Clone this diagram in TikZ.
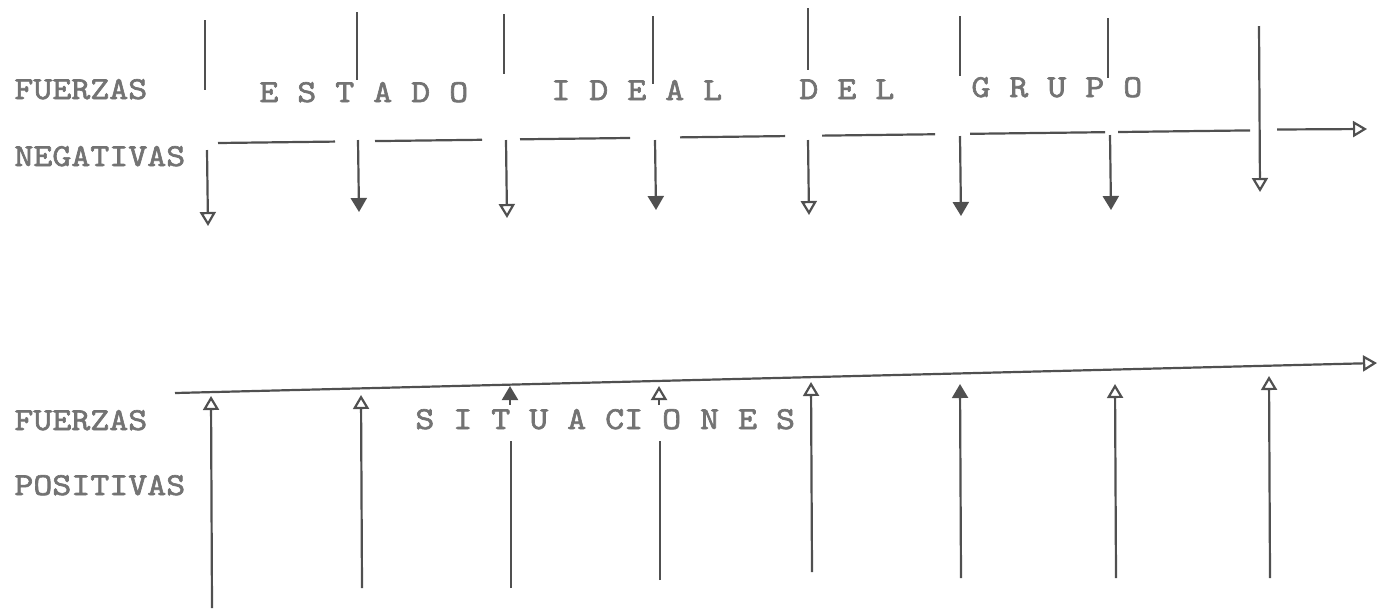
\documentclass[tikz,border=0pt]{standalone}
\usepackage{fontspec}
\newfontfamily\typewr[FakeStretch=1.13, FakeBold=2]{lmmono10-regular.otf}
\usetikzlibrary{positioning,
                arrows.meta}                % arrow tips

\definecolor{ink}{RGB}{80,80,80}
\definecolor{typed}{RGB}{115,115,115}

\tikzset{
    word/.style={anchor=base west, inner sep=0pt, text=typed,
                 font=\typewr\fontsize{16}{18}\selectfont},
    force/.style={draw=ink, line width=1.1pt},
    opentip/.style={-{Triangle[open, length=7pt, width=8pt]}},
    fulltip/.style={-{Triangle[length=7pt, width=8pt]}}
}

\begin{document}
\begin{tikzpicture}[x=0.5pt, y=-0.5pt]
    \useasboundingbox (0,0) rectangle (1379,612);

    % side labels
    \node[word] (fneg) at (14,99)  {FUERZAS};
    \node[word] (neg)  at (14,166) {NEGATIVAS};
    \node[word] (fpos) at (14,430) {FUERZAS};
    \node[word] (pos)  at (14,495) {POSITIVAS};

    % words over the broken line
    \node[word] (estado) at (259,102) {E S T A D O};
    \node[word] (ideal)  at (551,100) {I D E A L};
    \node[word] (del)    at (799,99)  {D E L};
    \node[word] (grupo)  at (971,97)  {G R U P O};
    \node[word] (sit)    at (415,429) {S I T U A CI O N E S};

    % broken line of the ideal state
    \foreach \i/\a/\b in {1/218/335, 2/375/482, 3/520/630, 4/680/785,
                          5/822/935, 6/970/1105, 7/1118/1250}{
        \coordinate (d\i a) at (\a, {143-(\a-218)*0.0122});
        \coordinate (d\i b) at (\b, {143-(\b-218)*0.0122});
        \draw[force] (d\i a) -- (d\i b);
    }
    \coordinate (dend a) at (1277,129.5);
    \coordinate (dend b) at (1367,129);
    \draw[force, opentip] (dend a) -- (dend b);

    % stubs above the line
    \foreach \i/\x/\a/\b in {1/205/20/90, 2/357/12/80, 3/504/14/74,
                             4/653/16/84, 5/808/8/70, 6/960/16/76,
                             7/1108/18/78}{
        \coordinate (s\i a) at (\x,\a);
        \coordinate (s\i b) at (\x,\b);
        \draw[force] (s\i a) -- (s\i b);
    }

    % negative forces
    \foreach \i/\x/\a/\b/\tip in {1/207/150/226/opentip, 2/358/140/212/fulltip,
                                  3/506/140/218/opentip, 4/655/140/210/fulltip,
                                  5/808/140/215/opentip, 6/960/136/216/fulltip,
                                  7/1110/135/210/fulltip, 8/1259/26/192/opentip}{
        \coordinate (n\i a) at (\x,\a);
        \coordinate (n\i b) at (\x+1,\b);
        \draw[force, \tip] (n\i a) -- (n\i b);
    }

    % line of the situations
    \coordinate (sa) at (175,393);
    \coordinate (sb) at (1377,363);
    \draw[force, opentip] (sa) -- (sb);

    % positive forces
    \foreach \i/\x/\a/\b/\tip in {1/212/608/396/opentip, 2/362/588/395/opentip,
                                  5/812/572/382/opentip, 6/961/578/384/fulltip,
                                  7/1116/578/384/opentip, 8/1270/578/376/opentip}{
        \coordinate (p\i a) at (\x,\a);
        \coordinate (p\i b) at (\x-1,\b);
        \draw[force, \tip] (p\i a) -- (p\i b);
    }
    % the two cut by the text
    \foreach \i/\x/\c/\tip in {3/511/588/fulltip, 4/660/580/opentip}{
        \coordinate (p\i a) at (\x,\c);
        \coordinate (p\i b) at (\x,441);
        \coordinate (p\i c) at (\x-1,405);
        \coordinate (p\i d) at (\x-1,386);
        \draw[force] (p\i a) -- (p\i b);
        \draw[force, \tip] (p\i c) -- (p\i d);
    }
\end{tikzpicture}
\end{document}
